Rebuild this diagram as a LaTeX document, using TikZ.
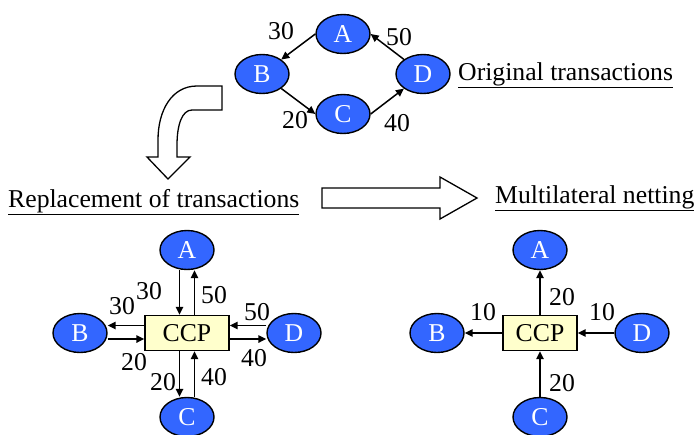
\documentclass[tikz,border=0pt]{standalone}
\usepackage{fontspec}
\setmainfont{Liberation Serif}
\usetikzlibrary{shapes.geometric,arrows.meta}
\definecolor{partyblue}{RGB}{51,102,255}
\definecolor{ccpyellow}{RGB}{255,255,204}
\begin{document}
\begin{tikzpicture}[x=1pt,y=-1pt,
  font=\fontsize{25.7}{30}\selectfont,
  party/.style={ellipse,draw=black,line width=1.4pt,fill=partyblue,text=white,
    minimum width=54pt,minimum height=39pt,inner sep=0pt},
  ccpbox/.style={rectangle,draw=black,line width=1.4pt,fill=ccpyellow,
    minimum height=35pt,inner sep=0pt},
  flow/.style={line width=1.5pt,-{Triangle[length=8pt,width=7.5pt]}},
  amount/.style={inner sep=0pt},
  heading/.style={anchor=base west,inner sep=0pt},
  blockarrow/.style={draw=black,fill=white,line width=1.3pt,line join=miter}]
\useasboundingbox (0,0) rectangle (695,434);

% --- original bilateral transactions ---
\node[party] (tA) at (343,34) {A};
\node[party] (tB) at (262,74) {B};
\node[party] (tC) at (343,114) {C};
\node[party] (tD) at (423,74) {D};
\draw[flow] (tA.west) -- (tB);
\draw[flow] (tB) -- (tC.west);
\draw[flow] (tC.east) -- (tD);
\draw[flow] (tD) -- (tA.east);
\node[amount] (tAB) at (281,31) {30};
\node[amount] (tDA) at (399,37) {50};
\node[amount] (tBC) at (295,120) {20};
\node[amount] (tCD) at (397,123) {40};
\node[heading] (torig) at (458,80) {\underline{Original transactions}};

% --- curved block arrow pointing down ---
\path[blockarrow] (222,86) -- (197,86)
  .. controls (172,86) and (158,110) .. (158,140) -- (158,157)
  -- (147,157) -- (168,179) -- (190,157) -- (177,157) -- (177,145)
  .. controls (177,125) and (182,110) .. (192,110) -- (222,110) -- cycle;

% --- straight block arrow pointing right ---
\path[blockarrow] (322,188) -- (440,188) -- (440,177) -- (477,198)
  -- (440,219) -- (440,208) -- (322,208) -- cycle;

\node[heading] (lrep) at (8,207) {\underline{Replacement of transactions}};
\node[heading] (rnet) at (495,203) {\underline{Multilateral netting}};

% --- replacement by the CCP ---
\node[ccpbox,minimum width=84pt] (lccp) at (187,333) {CCP};
\node[party] (lA) at (187,250) {A};
\node[party] (lB) at (80,333) {B};
\node[party] (lD) at (294,333) {D};
\node[party] (lC) at (187,417) {C};
\draw[flow] ([xshift=-7.5pt]lA.south) -- ([xshift=-7.5pt]lccp.north);
\draw[flow] ([xshift=7.5pt]lccp.north) -- ([xshift=7.5pt]lA.south);
\draw[flow] ([yshift=7.5pt]lccp.west) -- ([yshift=7.5pt]lB.east);
\draw[flow] ([yshift=-6pt]lB.east) -- ([yshift=-6pt]lccp.west);
\draw[flow] ([yshift=7.5pt]lD.west) -- ([yshift=7.5pt]lccp.east);
\draw[flow] ([yshift=-6pt]lccp.east) -- ([yshift=-6pt]lD.west);
\draw[flow] ([xshift=-7.5pt]lccp.south) -- ([xshift=-7.5pt]lC.north);
\draw[flow] ([xshift=7.5pt]lC.north) -- ([xshift=7.5pt]lccp.south);
\node[amount] (lAin) at (149,291) {30};
\node[amount] (lBout) at (122,306) {30};
\node[amount] (lAout) at (214,295) {50};
\node[amount] (lDin) at (257,312) {50};
\node[amount] (lBin) at (134,362) {20};
\node[amount] (lDout) at (254,358) {40};
\node[amount] (lCout) at (163,382) {20};
\node[amount] (lCin) at (214,377) {40};

% --- net positions after multilateral netting ---
\node[ccpbox,minimum width=74pt] (rccp) at (540,333) {CCP};
\node[party] (rA) at (540,250) {A};
\node[party] (rB) at (437,333) {B};
\node[party] (rD) at (642,333) {D};
\node[party] (rC) at (540,417) {C};
\draw[flow] (rccp.north) -- (rA.south);
\draw[flow] (rccp.west) -- (rB.east);
\draw[flow] (rD.west) -- (rccp.east);
\draw[flow] (rC.north) -- (rccp.south);
\node[amount] (rAn) at (562,297) {20};
\node[amount] (rBn) at (483,312) {10};
\node[amount] (rDn) at (602,312) {10};
\node[amount] (rCn) at (562,383) {20};
\end{tikzpicture}
\end{document}
